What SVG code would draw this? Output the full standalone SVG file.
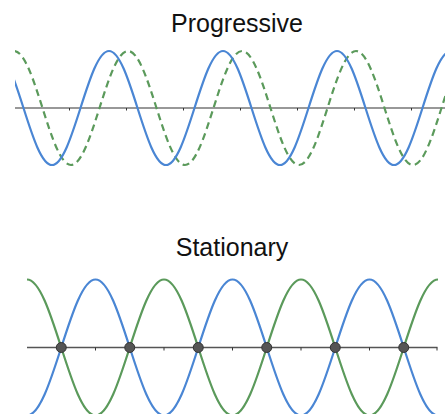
<svg xmlns="http://www.w3.org/2000/svg" width="445" height="414" viewBox="0 0 445 414">
<style>
.title{font-family:"Liberation Sans",Arial,sans-serif;font-size:25px;fill:#111;text-anchor:middle}
.axis{stroke:#333;stroke-width:1.2;fill:none}
.tick{stroke:#333;stroke-width:1;fill:none}
.blue{stroke:#4a86d4;stroke-width:2.2;fill:none}
.green{stroke:#5b9a5b;stroke-width:2.2;fill:none}
.dash{stroke-dasharray:7 4.5}
.node{fill:#555;stroke:#333;stroke-width:1}
</style>
<defs>
<clipPath id="clipTop"><rect x="15" y="0" width="430" height="200"/></clipPath>
<clipPath id="clipBot"><rect x="27" y="260" width="411.5" height="154"/></clipPath>
</defs>
<rect width="445" height="414" fill="#fff"/>
<g id="progressive">
<text class="title" x="237" y="31.5">Progressive</text>
<path class="axis" d="M15 108H445"/>
<path class="tick" d="M69.5 108v2.5M126.5 108v2.5M183.5 108v2.5M240.5 108v2.5M297.5 108v2.5M354.5 108v2.5M411.5 108v2.5"/>
<g clip-path="url(#clipTop)">
<path class="green dash" d="M14 51 C34.7 51 50.3 165 71 165 C91.7 165 107.3 51 128 51 C148.7 51 164.3 165 185 165 C205.7 165 221.3 51 242 51 C262.7 51 278.3 165 299 165 C319.7 165 335.3 51 356 51 C376.7 51 392.3 165 413 165 C433.7 165 449.3 51 470 51"/>
<path class="blue" d="M-5 51 C15.7 51 31.3 165 52 165 C72.7 165 88.3 51 109 51 C129.7 51 145.3 165 166 165 C186.7 165 202.3 51 223 51 C243.7 51 259.3 165 280 165 C300.7 165 316.3 51 337 51 C357.7 51 373.3 165 394 165 C414.7 165 430.3 51 451 51"/>
</g>
</g>
<g id="stationary">
<text class="title" x="232" y="256">Stationary</text>
<path class="axis" d="M27 347.5H437.5" style="stroke:#555;stroke-width:1.5"/>
<path class="tick" d="M95.5 347.5v3M164 347.5v3M232.5 347.5v3M301 347.5v3M369.5 347.5v3M437 347.5v3"/>
<g clip-path="url(#clipBot)">
<path class="green" d="M27 279.5 C51.9 279.5 70.6 415.5 95.5 415.5 C120.4 415.5 139.1 279.5 164 279.5 C188.9 279.5 207.6 415.5 232.5 415.5 C257.4 415.5 276.1 279.5 301 279.5 C325.9 279.5 344.6 415.5 369.5 415.5 C394.4 415.5 413.1 279.5 438 279.5"/>
<path class="blue" d="M27 415.5 C51.9 415.5 70.6 279.5 95.5 279.5 C120.4 279.5 139.1 415.5 164 415.5 C188.9 415.5 207.6 279.5 232.5 279.5 C257.4 279.5 276.1 415.5 301 415.5 C325.9 415.5 344.6 279.5 369.5 279.5 C394.4 279.5 413.1 415.5 438 415.5"/>
</g>
<circle id="node1" class="node" cx="61.25" cy="347.5" r="5"/>
<circle id="node2" class="node" cx="129.75" cy="347.5" r="5"/>
<circle id="node3" class="node" cx="198.25" cy="347.5" r="5"/>
<circle id="node4" class="node" cx="266.75" cy="347.5" r="5"/>
<circle id="node5" class="node" cx="335.25" cy="347.5" r="5"/>
<circle id="node6" class="node" cx="403.75" cy="347.5" r="5"/>
</g>
</svg>
